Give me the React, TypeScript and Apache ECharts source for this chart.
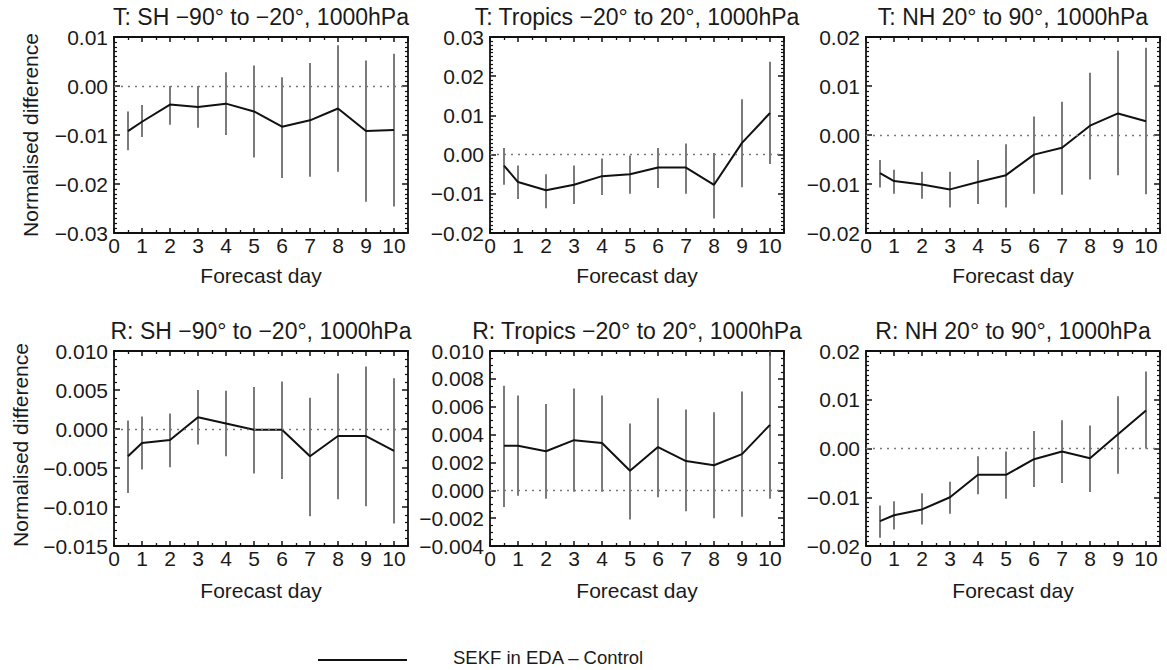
import React, { useEffect, useRef } from "react";
import * as echarts from "echarts";

// ---- data ----
const days = [0.5, 1, 2, 3, 4, 5, 6, 7, 8, 9, 10];
const xTickLabels = ["0", "1", "2", "3", "4", "5", "6", "7", "8", "9", "10"];

const titles = [
  "T: SH \u221290\u00b0 to \u221220\u00b0, 1000hPa",
  "T: Tropics \u221220\u00b0 to 20\u00b0, 1000hPa",
  "T: NH 20\u00b0 to 90\u00b0, 1000hPa",
  "R: SH \u221290\u00b0 to \u221220\u00b0, 1000hPa",
  "R: Tropics \u221220\u00b0 to 20\u00b0, 1000hPa",
  "R: NH 20\u00b0 to 90\u00b0, 1000hPa",
];

// T: SH
const tShMean = [-0.0092, -0.0073, -0.0038, -0.0043, -0.0036, -0.0052, -0.0083, -0.007, -0.0046, -0.0092, -0.009];
const tShHi = [-0.0052, -0.0039, 0.0, 0.0, 0.0028, 0.0042, 0.0018, 0.0047, 0.0083, 0.0052, 0.0066];
const tShLo = [-0.0131, -0.0104, -0.0079, -0.0085, -0.01, -0.0146, -0.0188, -0.0185, -0.0175, -0.0236, -0.0246];

// T: Tropics
const tTrMean = [-0.0028, -0.007, -0.0091, -0.0077, -0.0055, -0.005, -0.0033, -0.0033, -0.0077, 0.003, 0.0106];
const tTrHi = [0.0017, -0.0028, -0.005, -0.0028, -0.001, -0.0002, 0.0017, 0.0028, 0.0004, 0.0141, 0.0237];
const tTrLo = [-0.0077, -0.0113, -0.0137, -0.0126, -0.0103, -0.01, -0.0085, -0.01, -0.0163, -0.0083, -0.0024];

// T: NH
const tNhMean = [-0.0078, -0.0094, -0.0101, -0.0111, -0.0096, -0.0082, -0.004, -0.0026, 0.0019, 0.0044, 0.0028];
const tNhHi = [-0.0051, -0.0071, -0.0075, -0.0075, -0.0051, -0.0019, 0.0038, 0.0068, 0.0127, 0.0172, 0.0178];
const tNhLo = [-0.0107, -0.012, -0.013, -0.0148, -0.0141, -0.0148, -0.012, -0.0122, -0.0091, -0.0082, -0.0121];

// R: SH
const rShMean = [-0.0035, -0.0018, -0.0014, 0.0015, 0.0007, -0.0001, -0.0001, -0.0035, -0.0009, -0.0009, -0.0028];
const rShHi = [0.0011, 0.0016, 0.002, 0.005, 0.0049, 0.0054, 0.0061, 0.004, 0.0071, 0.008, 0.0065];
const rShLo = [-0.0082, -0.0052, -0.0049, -0.002, -0.0035, -0.0057, -0.0064, -0.0112, -0.009, -0.0099, -0.0121];

// R: Tropics
const rTrMean = [0.0032, 0.0032, 0.0028, 0.0036, 0.0034, 0.0014, 0.0031, 0.0021, 0.0018, 0.0026, 0.0047];
const rTrHi = [0.0075, 0.0068, 0.0062, 0.0073, 0.0068, 0.0048, 0.0066, 0.0058, 0.0056, 0.0071, 0.0105];
const rTrLo = [-0.0012, -0.0004, -0.0006, -0.0001, -0.0001, -0.0021, -0.0005, -0.0015, -0.002, -0.0019, -0.0006];

// R: NH
const rNhMean = [-0.0149, -0.0137, -0.0125, -0.01, -0.0054, -0.0054, -0.0022, -0.0006, -0.002, 0.0029, 0.0078];
const rNhHi = [-0.0117, -0.0108, -0.0092, -0.0068, -0.0016, -0.0006, 0.0036, 0.0058, 0.0047, 0.0107, 0.0158];
const rNhLo = [-0.0183, -0.0166, -0.0156, -0.0134, -0.0094, -0.0103, -0.0079, -0.0071, -0.0089, -0.0052, 0.0];

const panelMeans = [tShMean, tTrMean, tNhMean, rShMean, rTrMean, rNhMean];
const panelHis = [tShHi, tTrHi, tNhHi, rShHi, rTrHi, rNhHi];
const panelLos = [tShLo, tTrLo, tNhLo, rShLo, rTrLo, rNhLo];

// y-axis scales per panel
const yMins = [-0.03, -0.02, -0.02, -0.015, -0.004, -0.02];
const yMaxs = [0.01, 0.03, 0.02, 0.01, 0.01, 0.02];
const yIntervals = [0.01, 0.01, 0.01, 0.005, 0.002, 0.01];
const yDecimals = [2, 2, 2, 3, 3, 2];
const yMinorSplits = [10, 10, 10, 5, 4, 10];

const legendLabel = "SEKF in EDA \u2013 Control";
const xName = "Forecast day";
const yName = "Normalised difference";

// ---- layout ----
const FONT = '"Liberation Sans", Arial, Helvetica, sans-serif';
const TXT = "#1a1a1a";
const colLeft = [114, 490, 866];
const plotW = 294;
const rowTop = [37, 351];
const rowH = [196, 195];

function fmtY(dec: number) {
  return (v: number) => {
    if (Math.abs(v) < 1e-12) v = 0;
    const s = Math.abs(v).toFixed(dec);
    return v < 0 ? "\u2212" + s : s;
  };
}

function buildOption() {
  const grid: any[] = [];
  const xAxis: any[] = [];
  const yAxis: any[] = [];
  const series: any[] = [];
  const graphic: any[] = [];

  const lineStyle = { color: "#111", width: 1.8 };

  for (let i = 0; i < 6; i++) {
    const r = Math.floor(i / 3);
    const c = i % 3;
    const left = colLeft[c];
    const top = rowTop[r];
    const h = rowH[r];
    grid.push({ left, top, width: plotW, height: h, containLabel: false });

    const xCommon = {
      gridIndex: i,
      type: "value",
      min: 0,
      max: 10.5,
      interval: 1,
      axisLine: { show: true, onZero: false, lineStyle },
      axisTick: { show: true, inside: true, length: 5, lineStyle: { color: "#111", width: 1.5 } },
      minorTick: { show: true, splitNumber: 2, length: 3, lineStyle: { color: "#111", width: 1.3 } },
      splitLine: { show: false },
      minorSplitLine: { show: false },
    };
    xAxis.push({
      ...xCommon,
      position: "bottom",
      axisLabel: {
        show: true,
        margin: 3,
        fontSize: 21,
        lineHeight: 18,
        fontFamily: FONT,
        color: TXT,
        formatter: (v: number) => {
          const k = Math.round(v);
          return Math.abs(v - k) < 1e-9 && k >= 0 && k < xTickLabels.length ? xTickLabels[k] : "";
        },
      },
    });
    xAxis.push({ ...xCommon, position: "top", axisLabel: { show: false } });

    const yCommon = {
      gridIndex: i,
      type: "value",
      min: yMins[i],
      max: yMaxs[i],
      interval: yIntervals[i],
      axisLine: { show: true, onZero: false, lineStyle },
      axisTick: { show: true, inside: true, length: 6, lineStyle: { color: "#111", width: 1.5 } },
      minorTick: { show: true, splitNumber: yMinorSplits[i], length: 3, lineStyle: { color: "#111", width: 1.2 } },
      splitLine: { show: false },
      minorSplitLine: { show: false },
    };
    yAxis.push({
      ...yCommon,
      position: "left",
      axisLabel: {
        show: true,
        margin: 6,
        fontSize: 21,
        lineHeight: 17,
        fontFamily: FONT,
        color: TXT,
        formatter: fmtY(yDecimals[i]),
      },
    });
    yAxis.push({ ...yCommon, position: "right", axisLabel: { show: false } });

    const lineData = days.map((d, k) => [d, panelMeans[i][k]]);
    const barData = days.map((d, k) => [d, panelLos[i][k], panelHis[i][k]]);

    series.push({
      type: "custom",
      xAxisIndex: 2 * i,
      yAxisIndex: 2 * i,
      z: 2,
      silent: true,
      data: barData,
      encode: { x: 0, y: [1, 2] },
      renderItem: (params: any, api: any) => {
        const x = api.value(0);
        const p1 = api.coord([x, api.value(1)]);
        const p2 = api.coord([x, api.value(2)]);
        const cs = params.coordSys;
        const clamp = (y: number) => Math.max(cs.y, Math.min(cs.y + cs.height, y));
        return {
          type: "line",
          shape: { x1: p1[0], y1: clamp(p1[1]), x2: p2[0], y2: clamp(p2[1]) },
          style: { stroke: "#5a5a5a", lineWidth: 1.6 },
        };
      },
    });

    series.push({
      type: "line",
      xAxisIndex: 2 * i,
      yAxisIndex: 2 * i,
      z: 3,
      data: lineData,
      showSymbol: false,
      symbol: "none",
      silent: true,
      lineStyle: { color: "#111", width: 2 },
      markLine: {
        silent: true,
        symbol: "none",
        label: { show: false },
        lineStyle: { color: "#777", width: 1.3, type: [2, 5] },
        data: [{ yAxis: 0 }],
      },
    });

    graphic.push({
      type: "text",
      x: left + plotW / 2,
      y: r === 0 ? 17 : 331,
      style: {
        text: titles[i],
        font: `23px ${FONT}`,
        lineHeight: 19,
        fill: TXT,
        align: "center",
        verticalAlign: "middle",
      },
    });
    graphic.push({
      type: "text",
      x: left + plotW / 2,
      y: r === 0 ? 275 : 590,
      style: { text: xName, font: `21px ${FONT}`, fill: TXT, align: "center", verticalAlign: "middle" },
    });
  }

  graphic.push({
    type: "text",
    x: 30,
    y: 135,
    rotation: Math.PI / 2,
    style: { text: yName, font: `21px ${FONT}`, fill: TXT, align: "center", verticalAlign: "middle" },
  });
  graphic.push({
    type: "text",
    x: 20,
    y: 445,
    rotation: Math.PI / 2,
    style: { text: yName, font: `21px ${FONT}`, fill: TXT, align: "center", verticalAlign: "middle" },
  });

  graphic.push({
    type: "line",
    shape: { x1: 318, y1: 660, x2: 407, y2: 660 },
    style: { stroke: "#111", lineWidth: 2 },
  });
  graphic.push({
    type: "text",
    x: 453,
    y: 657,
    style: { text: legendLabel, font: `18.5px ${FONT}`, fill: TXT, align: "left", verticalAlign: "middle" },
  });

  return {
    animation: false,
    backgroundColor: "#ffffff",
    grid,
    xAxis,
    yAxis,
    series,
    graphic,
  };
}

export default function App() {
  const ref = useRef<HTMLDivElement>(null);
  useEffect(() => {
    if (!ref.current) return;
    const chart = echarts.init(ref.current, undefined, { renderer: "svg" });
    chart.setOption(buildOption() as any);
    return () => chart.dispose();
  }, []);
  return (
    <div
      ref={ref}
      style={{ position: "fixed", left: 0, top: 0, width: 1167, height: 670, background: "#fff" }}
    />
  );
}
